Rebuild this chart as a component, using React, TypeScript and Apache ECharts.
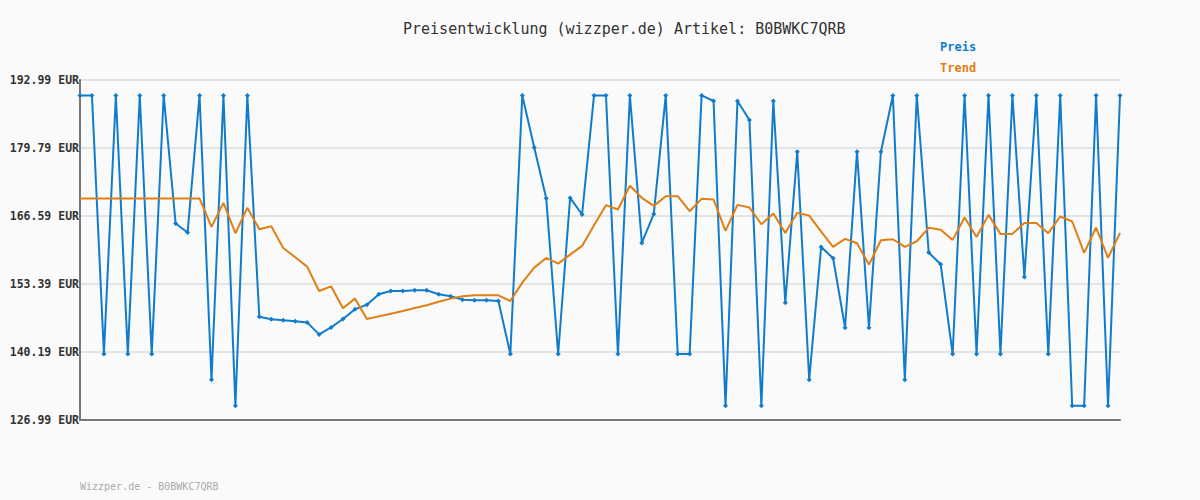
import React, { useEffect, useRef } from "react";
import * as echarts from "echarts";

const TITLE = "Preisentwicklung (wizzper.de) Artikel: B0BWKC7QRB";
const FOOTER = "Wizzper.de - B0BWKC7QRB";
const SERIES_NAMES = ["Preis", "Trend"];
const Y_TICKS = [126.99, 140.19, 153.39, 166.59, 179.79, 192.99];

const PREIS = [
  189.99, 189.99, 139.8, 189.99, 139.8, 189.99, 139.8, 189.99, 165.13, 163.38,
  189.99, 134.8, 189.99, 129.75, 189.99, 147.05, 146.53, 146.33, 146.14, 145.94,
  143.61, 144.97, 146.59, 148.47, 149.38, 151.39, 152.03, 152.03, 152.17, 152.17,
  151.39, 151.0, 150.35, 150.22, 150.22, 150.09, 139.8, 189.99, 179.9, 170.05,
  139.8, 170.1, 166.88, 189.99, 189.99, 139.8, 189.99, 161.37, 167.0, 189.99,
  139.8, 139.8, 189.99, 188.91, 129.75, 188.91, 185.21, 129.75, 188.91, 149.77,
  179.06, 134.8, 160.59, 158.39, 144.91, 179.06, 144.91, 179.06, 189.99, 134.8,
  189.99, 159.49, 157.22, 139.8, 189.99, 139.8, 189.99, 139.8, 189.99, 154.76,
  189.99, 139.8, 189.99, 129.75, 129.75, 189.99, 129.75, 189.99,
];

const TREND = [
  169.99, 169.99, 169.99, 169.99, 169.99, 169.99, 169.99, 169.99, 169.99, 169.99,
  169.99, 164.48, 169.14, 163.25, 168.17, 164.02, 164.61, 160.39, 158.58, 156.77,
  152.03, 152.94, 148.67, 150.55, 146.59, 147.11, 147.63, 148.15, 148.73, 149.25,
  149.96, 150.55, 151.0, 151.19, 151.19, 151.19, 150.09, 153.66, 156.57, 158.45,
  157.35, 159.1, 160.78, 164.8, 168.69, 167.85, 172.45, 170.12, 168.56, 170.44,
  170.44, 167.52, 169.92, 169.79, 163.7, 168.75, 168.24, 164.99, 167.07, 163.31,
  167.2, 166.68, 163.57, 160.59, 162.15, 161.3, 157.16, 161.89, 162.08, 160.59,
  161.69, 164.29, 163.9, 161.95, 166.29, 162.53, 166.81, 163.12, 163.12, 165.25,
  165.25, 163.25, 166.49, 165.52, 159.42, 164.35, 158.45, 163.31,
];

const CATEGORIES = PREIS.map((_, i) => String(i + 1));

const BLUE = "#117ccb";
const ORANGE = "#e07f14";
const MONO = "'DejaVu Sans Mono', 'Liberation Mono', monospace";

export default function App() {
  const ref = useRef<HTMLDivElement>(null);
  useEffect(() => {
    if (!ref.current) return;
    const chart = echarts.init(ref.current, null, { renderer: "svg" });
    chart.setOption({
      animation: false,
      backgroundColor: "#fafafa",
      title: {
        text: TITLE,
        left: 398,
        top: 16,
        textStyle: { fontFamily: MONO, fontSize: 15, fontWeight: "normal", color: "#333" },
      },
      legend: {
        data: [
          { name: SERIES_NAMES[0], textStyle: { color: BLUE } },
          { name: SERIES_NAMES[1], textStyle: { color: ORANGE } },
        ],
        orient: "vertical",
        left: 930,
        top: 36,
        itemWidth: 0,
        itemHeight: 0,
        itemGap: 9,
        icon: "rect",
        textStyle: { fontFamily: MONO, fontSize: 12, fontWeight: "bold" },
      },
      graphic: [
        {
          type: "text",
          left: 80,
          top: 481,
          style: { text: FOOTER, fill: "#aaaaaa", font: `10px ${MONO}` },
        },
      ],
      grid: { left: 80, right: 80, top: 80, bottom: 80, containLabel: false },
      xAxis: {
        type: "category",
        data: CATEGORIES,
        boundaryGap: false,
        axisLine: { lineStyle: { color: "#777", width: 2 } },
        axisTick: { show: false },
        axisLabel: { show: false },
        splitLine: { show: false },
      },
      yAxis: {
        type: "value",
        min: Y_TICKS[0],
        max: Y_TICKS[Y_TICKS.length - 1],
        axisLine: { show: true, lineStyle: { color: "#777", width: 2 } },
        axisTick: { show: false, customValues: Y_TICKS },
        axisLabel: {
          customValues: Y_TICKS,
          margin: 1,
          color: "#333",
          fontFamily: MONO,
          fontSize: 11.5,
          fontWeight: "bold",
          formatter: (v: number) => v.toFixed(2) + " EUR",
        },
        splitLine: { show: true, lineStyle: { color: "#e4e4e4", width: 2 } },
      },
      series: [
        {
          name: SERIES_NAMES[0],
          type: "line",
          data: PREIS,
          color: BLUE,
          lineStyle: { width: 2, color: BLUE },
          symbol: "diamond",
          symbolSize: 5,
          showSymbol: true,
          itemStyle: { color: BLUE },
          z: 2,
        },
        {
          name: SERIES_NAMES[1],
          type: "line",
          data: TREND,
          color: ORANGE,
          lineStyle: { width: 2, color: ORANGE },
          symbol: "none",
          showSymbol: false,
          itemStyle: { color: ORANGE },
          z: 3,
        },
      ],
    });
    return () => chart.dispose();
  }, []);
  return (
    <div
      ref={ref}
      style={{ position: "absolute", left: 0, top: 0, width: 1200, height: 500 }}
    />
  );
}
